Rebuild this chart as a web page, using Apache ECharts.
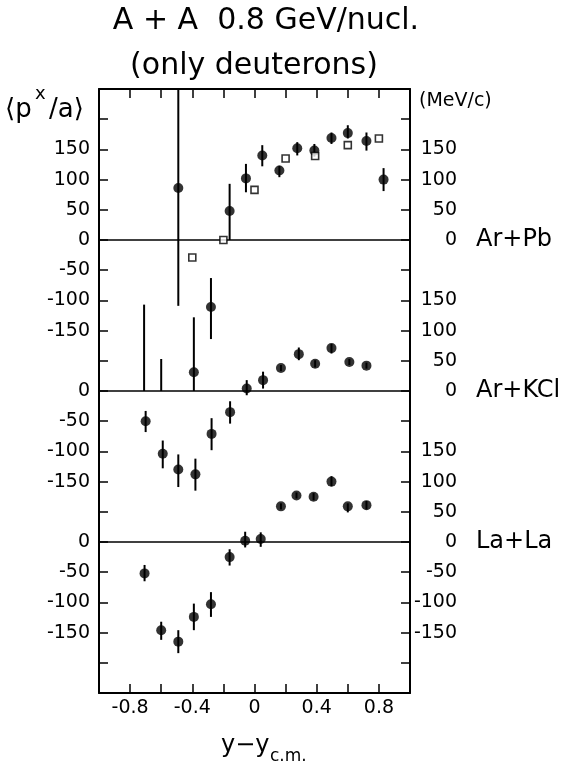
<!DOCTYPE html>
<html>
<head>
<meta charset="utf-8">
<script src="https://cdn.jsdelivr.net/npm/echarts@6/dist/echarts.min.js"></script>
<style>
html,body{margin:0;padding:0;background:#fff;}
#chart{width:574px;height:768px;}
</style>
</head>
<body>
<div id="chart"></div>
<script>
// ---------------- data (panel-local <p^x/a> values, MeV/c) ----------------
const panelNames = ['Ar+Pb', 'Ar+KCl', 'La+La'];

// Ar+Pb, filled points
const arPbX  = [-0.49, -0.16, -0.055, 0.05, 0.16, 0.275, 0.385, 0.495, 0.60, 0.72, 0.83, -0.39, -0.28];
const arPbY  = [86, 48, 102, 140, 115, 152, 148, 169, 177, 164, 100, -219, -111];
const arPbLo = [-109, 0, 79, 122, 104, 140, 138, 159, 168, 148, 81, -250, -164];
const arPbHi = [250, 93, 126, 157, 123, 162, 159, 178, 190, 178, 119, -128, -63];
// Ar+Pb, error bars whose points lie off scale
const arPbBarX  = [-0.71, -0.60];
const arPbBarLo = [-250, -250];
const arPbBarHi = [-107, -197];
// Ar+Pb, open squares
const arPbSqX = [-0.40, -0.20, 0.00, 0.20, 0.39, 0.60, 0.80];
const arPbSqY = [-29, 0, 83, 135, 139, 157, 168];

// Ar+KCl
const arKClX  = [-0.70, -0.59, -0.49, -0.38, -0.276, -0.157, -0.05, 0.055, 0.17, 0.285, 0.39, 0.495, 0.61, 0.72];
const arKClY  = [-50, -104, -130, -138, -71, -35, 4, 18, 38, 61, 45, 71, 48, 42];
const arKClLo = [-68, -128, -159, -165, -98, -54, -7, 4, 33, 51, 39, 62, 43, 37];
const arKClHi = [-33, -82, -105, -112, -45, -17, 18, 32, 43, 72, 51, 78, 53, 47];

// La+La
const laLaX  = [-0.707, -0.60, -0.49, -0.39, -0.28, -0.16, -0.06, 0.04, 0.17, 0.27, 0.38, 0.495, 0.60, 0.72];
const laLaY  = [-52, -146, -165, -124, -103, -25, 2, 5, 59, 77, 75, 100, 59, 61];
const laLaLo = [-65, -162, -184, -146, -124, -39, -9, -8, 54, 72, 69, 92, 49, 54];
const laLaHi = [-38, -132, -146, -102, -83, -12, 17, 16, 64, 82, 81, 109, 64, 68];

// tick labels
const xTickLabels = [-0.8, -0.4, 0, 0.4, 0.8];
const leftTickLabels  = [[150, 100, 50, 0, -50, -100, -150], [0, -50, -100, -150], [0, -50, -100, -150]];
const rightTickLabels = [[150, 100, 50, 0], [150, 100, 50, 0], [150, 100, 50, 0, -50, -100, -150]];

// ---------------- layout ----------------
const panelOffsets = [0, -250, -500];   // where each panel's zero sits on the shared axis
const FONT = 'DejaVu Sans';

function tickText(lists, v) {
  for (let p = 0; p < lists.length; p++) {
    const loc = Math.round(v - panelOffsets[p]);
    if (lists[p].includes(loc)) return String(loc);
  }
  return '';
}

function pts(xs, ys, off) { return xs.map((x, i) => [x, ys[i] + off]); }
function bars(xs, lo, hi, off) { return xs.map((x, i) => [x, lo[i] + off, hi[i] + off]); }

function errSeries(data) {
  return {
    type: 'custom',
    data: data,
    encode: { x: 0, y: [1, 2] },
    z: 2,
    silent: true,
    renderItem: function (params, api) {
      const a = api.coord([api.value(0), api.value(1)]);
      const b = api.coord([api.value(0), api.value(2)]);
      return { type: 'line', shape: { x1: a[0], y1: a[1], x2: b[0], y2: b[1] },
               style: { stroke: '#000', lineWidth: 2 } };
    }
  };
}
function dotSeries(data, p) {
  return {
    type: 'scatter', data: data, symbol: 'circle', symbolSize: 10, z: 4,
    itemStyle: { color: '#000' },
    markLine: {
      silent: true, symbol: ['none', 'none'], animation: false,
      lineStyle: { color: '#000', width: 1.5, type: 'solid' },
      label: { show: true, position: 'end', distance: 66, formatter: panelNames[p],
               color: '#000', fontSize: 24, fontFamily: FONT },
      data: [{ yAxis: panelOffsets[p] }]
    }
  };
}

const axisLineStyle = { color: '#000', width: 2 };
const tickStyle = { inside: true, length: 9, lineStyle: { color: '#000', width: 1.5 } };

function txt(x, y, text, size, align) {
  return { type: 'text', x: x, y: y, style: { text: text, fontSize: size, fontFamily: FONT, fill: '#000',
    align: align, verticalAlign: 'middle', textAlign: align, textVerticalAlign: 'middle' } };
}

const option = {
  animation: false,
  backgroundColor: '#fff',
  grid: { left: 99, right: 164, top: 89, bottom: 75, containLabel: false },
  xAxis: [
    { type: 'value', min: -1, max: 1, interval: 0.2, position: 'bottom',
      axisLine: { show: true, onZero: false, lineStyle: axisLineStyle }, axisTick: tickStyle,
      splitLine: { show: false },
      axisLabel: { margin: 6, fontSize: 19, color: '#000', fontFamily: FONT,
        formatter: v => { const m = xTickLabels.find(t => Math.abs(t - v) < 1e-6); return m === undefined ? '' : String(m); } } },
    { type: 'value', min: -1, max: 1, interval: 0.2, position: 'top',
      axisLine: { show: true, onZero: false, lineStyle: axisLineStyle }, axisTick: tickStyle,
      splitLine: { show: false }, axisLabel: { show: false } }
  ],
  yAxis: [
    { type: 'value', min: -750, max: 250, interval: 50, position: 'left',
      axisLine: { show: true, onZero: false, lineStyle: axisLineStyle }, axisTick: tickStyle,
      splitLine: { show: false },
      axisLabel: { margin: 9, fontSize: 19, color: '#000', fontFamily: FONT,
        formatter: v => tickText(leftTickLabels, v) } },
    { type: 'value', min: -750, max: 250, interval: 50, position: 'right',
      axisLine: { show: true, onZero: false, lineStyle: axisLineStyle }, axisTick: tickStyle,
      splitLine: { show: false },
      axisLabel: { margin: 47, align: 'right', fontSize: 19, color: '#000', fontFamily: FONT,
        formatter: v => tickText(rightTickLabels, v) } }
  ],
  graphic: [
    txt(266, 21, 'A + A  0.8 GeV/nucl.', 30, 'center'),
    txt(254, 66, '(only deuterons)', 30, 'center'),
    txt(5, 110, '\u27E8p', 26, 'left'),
    txt(35, 94, 'x', 18, 'left'),
    txt(49, 110, '/a\u27E9', 26, 'left'),
    txt(419, 101, '(MeV/c)', 19, 'left'),
    txt(221, 746, 'y\u2212y', 24, 'left'),
    txt(270, 757, 'c.m.', 17, 'left')
  ],
  series: [
    errSeries(bars(arPbX, arPbLo, arPbHi, panelOffsets[0]).concat(bars(arPbBarX, arPbBarLo, arPbBarHi, panelOffsets[0]))),
    errSeries(bars(arKClX, arKClLo, arKClHi, panelOffsets[1])),
    errSeries(bars(laLaX, laLaLo, laLaHi, panelOffsets[2])),
    dotSeries(pts(arPbX, arPbY, panelOffsets[0]), 0),
    dotSeries(pts(arKClX, arKClY, panelOffsets[1]), 1),
    dotSeries(pts(laLaX, laLaY, panelOffsets[2]), 2),
    { type: 'scatter', data: pts(arPbSqX, arPbSqY, panelOffsets[0]), symbol: 'rect', symbolSize: 7, z: 5,
      itemStyle: { color: '#fff', borderColor: '#000', borderWidth: 1.6 } }
  ]
};

const chart = echarts.init(document.getElementById('chart'), null, { renderer: 'canvas' });
chart.setOption(option);
</script>
</body>
</html>
